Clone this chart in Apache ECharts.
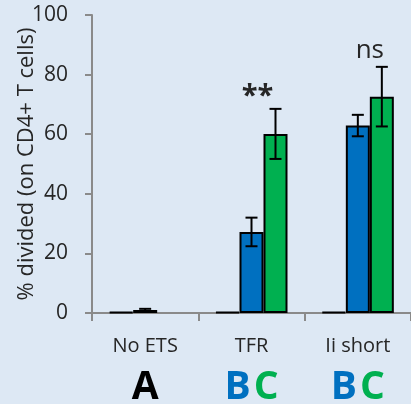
<!DOCTYPE html>
<html>
<head>
<meta charset="utf-8">
<script src="https://cdn.jsdelivr.net/npm/echarts@6/dist/echarts.min.js"></script>
<style>
  html, body { margin: 0; padding: 0; background: #dde8f4; }
  #chart { width: 411px; height: 404px; }
</style>
</head>
<body>
<div id="chart"></div>
<script>
// data
const categories = ['No ETS', 'TFR', 'Ii short']
const groupLetters = ['A', 'BC', 'BC']
const ctrlValues = [0.3, 0.3, 0.3]
const blueValues = [1, 27.2, 62.9]
const blueErrors = [0.4, 4.8, 3.6]
const greenValues = [null, 60.1, 72.6]
const greenErrors = [null, 8.4, 10]
const yTicks = { min: 0, max: 100, interval: 20 }
const signif = [
  { cat: 1, value: 72.5, text: '**', dx: 6, size: 29, weight: 'bold' },
  { cat: 2, value: 88, text: 'ns', dx: 12, size: 26, weight: 'normal' }
]

const barW = 24
const axisGrey = '#8a8a8a'
const textCol = '#262626'
const font = '"Open Sans", "Liberation Sans", sans-serif'

const chart = echarts.init(document.getElementById('chart'))

function barSeries(name, data, color)
{
  return {
    name,
    type: 'bar',
    data,
    barWidth: barW,
    barGap: '0%',
    itemStyle: { color, borderColor: '#000', borderWidth: 2 },
    animation: false
  }
}

// error bars, one row = [category, mean, err, bar slot]
const errData = []
blueValues.forEach((v, i) => { if (v != null) errData.push([i, v, blueErrors[i], 1]) })
greenValues.forEach((v, i) => { if (v != null) errData.push([i, v, greenErrors[i], 2]) })

function renderErr(params, api)
{
  const c = api.value(0), m = api.value(1), e = api.value(2), slot = api.value(3)
  const top = api.coord([c, m + e])
  const bot = api.coord([c, m - e])
  const x = top[0] + (slot - 1) * barW
  const cap = 6
  const style = { stroke: '#000', lineWidth: 2 }
  return {
    type: 'group',
    children: [
      { type: 'line', shape: { x1: x, y1: top[1], x2: x, y2: bot[1] }, style },
      { type: 'line', shape: { x1: x - cap, y1: top[1], x2: x + cap, y2: top[1] }, style },
      { type: 'line', shape: { x1: x - cap, y1: bot[1], x2: x + cap, y2: bot[1] }, style }
    ]
  }
}

const option = {
  backgroundColor: '#dde8f4',
  textStyle: { fontFamily: font },
  grid: { left: 92, right: 0, top: 15, bottom: 91, containLabel: false, outerBoundsMode: 'none' },
  xAxis: {
    type: 'category',
    data: categories,
    axisLine: { lineStyle: { color: axisGrey, width: 2 } },
    axisTick: { show: true, length: 8, lineStyle: { color: axisGrey, width: 2 } },
    axisLabel: {
      interval: 0,
      margin: 15,
      formatter: (v, i) =>
      {
        const g = groupLetters[i]
        const letters = g === 'A' ? '{a|A}' : '{b|B} {c|C}'
        return '{n|' + v + '}\n' + letters
      },
      rich: {
        n: { fontSize: 20, color: textCol, lineHeight: 36, fontFamily: font },
        a: { fontSize: 39, fontWeight: 'bold', color: '#000', lineHeight: 48, fontFamily: font },
        b: { fontSize: 39, fontWeight: 'bold', color: '#0070c0', lineHeight: 48, fontFamily: font },
        c: { fontSize: 39, fontWeight: 'bold', color: '#00b050', lineHeight: 48, fontFamily: font }
      }
    }
  },
  yAxis: {
    type: 'value',
    min: yTicks.min,
    max: yTicks.max,
    interval: yTicks.interval,
    name: '% divided (on CD4+ T cells)',
    nameLocation: 'middle',
    nameGap: 54,
    nameMoveOverlap: false,
    nameTextStyle: { fontSize: 22, color: textCol, fontFamily: font },
    axisLine: { show: true, lineStyle: { color: axisGrey, width: 2 } },
    axisTick: { show: true, length: 7, lineStyle: { color: axisGrey, width: 2 } },
    axisLabel: { fontSize: 21, color: textCol, margin: 24 },
    splitLine: { show: false }
  },
  series: [
    barSeries('ctrl', ctrlValues, '#000'),
    barSeries('B', blueValues, '#0070c0'),
    barSeries('C', greenValues, '#00b050'),
    {
      type: 'custom',
      renderItem: renderErr,
      data: errData,
      z: 5,
      animation: false
    },
    {
      type: 'scatter',
      symbolSize: 0,
      data: signif.map(s => ({
        value: [s.cat, s.value],
        label: {
          show: true,
          position: 'inside',
          formatter: s.text,
          offset: [s.dx, 0],
          fontSize: s.size,
          fontWeight: s.weight,
          color: textCol,
          fontFamily: font
        }
      })),
      itemStyle: { opacity: 1 },
      silent: true,
      animation: false
    }
  ]
}

chart.setOption(option)
</script>
</body>
</html>
